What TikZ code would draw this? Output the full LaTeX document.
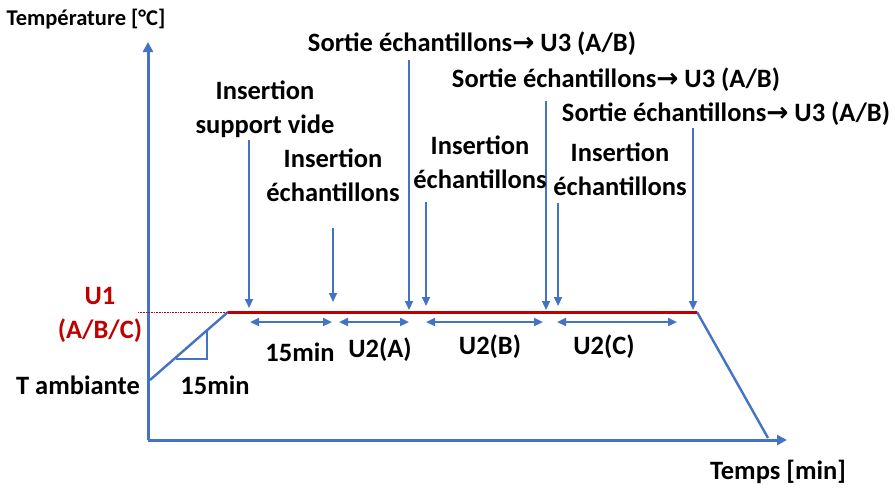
\documentclass[tikz,border=0pt]{standalone}
\usepackage{fontspec}
\setmainfont{Carlito}
\newfontfamily\arrowfont{DejaVu Sans}
\usetikzlibrary{arrows.meta,positioning}
\definecolor{axisblue}{HTML}{4472C4}
\definecolor{levelred}{HTML}{C00000}
\newcommand{\outarrow}{{\arrowfont\bfseries\char"2192}}

\begin{document}
\begin{tikzpicture}[x=1pt,y=-1pt,
    lbl/.style={font=\fontsize{26.5}{34}\selectfont\bfseries,inner sep=0pt,align=center},
    axisline/.style={draw=axisblue,line width=3pt,-{Triangle[length=10pt,width=10pt]}},
    dnarrow/.style={draw=axisblue,line width=2.2pt,-{Triangle[length=9pt,width=8pt]}},
    spanarrow/.style={draw=axisblue,line width=2.2pt,{Triangle[length=9pt,width=8pt]}-{Triangle[length=9pt,width=8pt]}},
    curve/.style={draw=axisblue,line width=2.4pt}]
  \useasboundingbox (0,0) rectangle (895,491);

  % axes
  \coordinate (o) at (148,440);
  \coordinate (ytop) at (148,42);
  \coordinate (xend) at (787,440);
  \draw[axisline] (o) -- (ytop);
  \draw[axisline] (o) -- (xend);
  \node[lbl,font=\fontsize{22.5}{26}\selectfont\bfseries] (ylab) at (86,19) {Température [°C]};
  \node[lbl] (xlab) at (778,472) {Temps [min]};

  % temperature profile
  \coordinate (amb) at (150,380);
  \coordinate (u1s) at (228,312);
  \coordinate (u1e) at (697,312);
  \coordinate (endp) at (768,438);
  \coordinate (dashs) at (138,312);
  \draw[curve] (amb) -- (u1s);
  \draw[curve] (u1e) -- (endp);
  \draw[levelred,line width=3pt] (u1s) -- (u1e);
  \draw[levelred,line width=0.6pt,densely dotted] (dashs) -- (u1s);
  \node[lbl] (tamb) at (78,385) {T ambiante};
  \node[lbl,text=levelred] (u1) at (100,315) {U1\\(A/B/C)};

  % slope triangle
  \coordinate (tria) at (176,359);
  \coordinate (trib) at (207,359);
  \coordinate (tric) at (207,331);
  \draw[axisblue,line width=1.8pt] (tria) -- (trib) -- (tric);
  \node[lbl] (ramp) at (215,385) {15min};

  % events on the plateau
  \coordinate (e1) at (249,140);   \coordinate (e1t) at (249,308);
  \coordinate (e2) at (333,228);   \coordinate (e2t) at (333,302);
  \coordinate (e3) at (409,60);    \coordinate (e3t) at (409,310);
  \coordinate (e4) at (426,202);   \coordinate (e4t) at (426,306);
  \coordinate (e5) at (546,101);   \coordinate (e5t) at (546,310);
  \coordinate (e6) at (558,203);   \coordinate (e6t) at (558,306);
  \coordinate (e7) at (693,128);   \coordinate (e7t) at (693,310);
  \foreach \e in {e1,e2,e3,e4,e5,e6,e7}
    \draw[dnarrow] (\e) -- (\e t);

  \node[lbl] (ins0) at (265,109) {Insertion\\support vide};
  \node[lbl] (ins1) at (333,175) {Insertion\\échantillons};
  \node[lbl] (ins2) at (480,162) {Insertion\\échantillons};
  \node[lbl] (ins3) at (620,169) {Insertion\\échantillons};
  \node[lbl] (out1) at (472,44) {Sortie échantillons\outarrow{} U3 (A/B)};
  \node[lbl] (out2) at (616,80) {Sortie échantillons\outarrow{} U3 (A/B)};
  \node[lbl] (out3) at (726,114) {Sortie échantillons\outarrow{} U3 (A/B)};

  % durations
  \coordinate (d0) at (250,322);
  \coordinate (d1) at (332,322);
  \coordinate (d2) at (339,322);
  \coordinate (d3) at (409,322);
  \coordinate (d4) at (426,322);
  \coordinate (d5) at (543,322);
  \coordinate (d6) at (557,322);
  \coordinate (d7) at (677,322);
  \draw[spanarrow] (d0) -- (d1);
  \draw[spanarrow] (d2) -- (d3);
  \draw[spanarrow] (d4) -- (d5);
  \draw[spanarrow] (d6) -- (d7);
  \node[lbl] (t15) at (300,352) {15min};
  \node[lbl] (u2a) at (380,350) {U2(A)};
  \node[lbl] (u2b) at (490,347) {U2(B)};
  \node[lbl] (u2c) at (604,347) {U2(C)};
\end{tikzpicture}
\end{document}
